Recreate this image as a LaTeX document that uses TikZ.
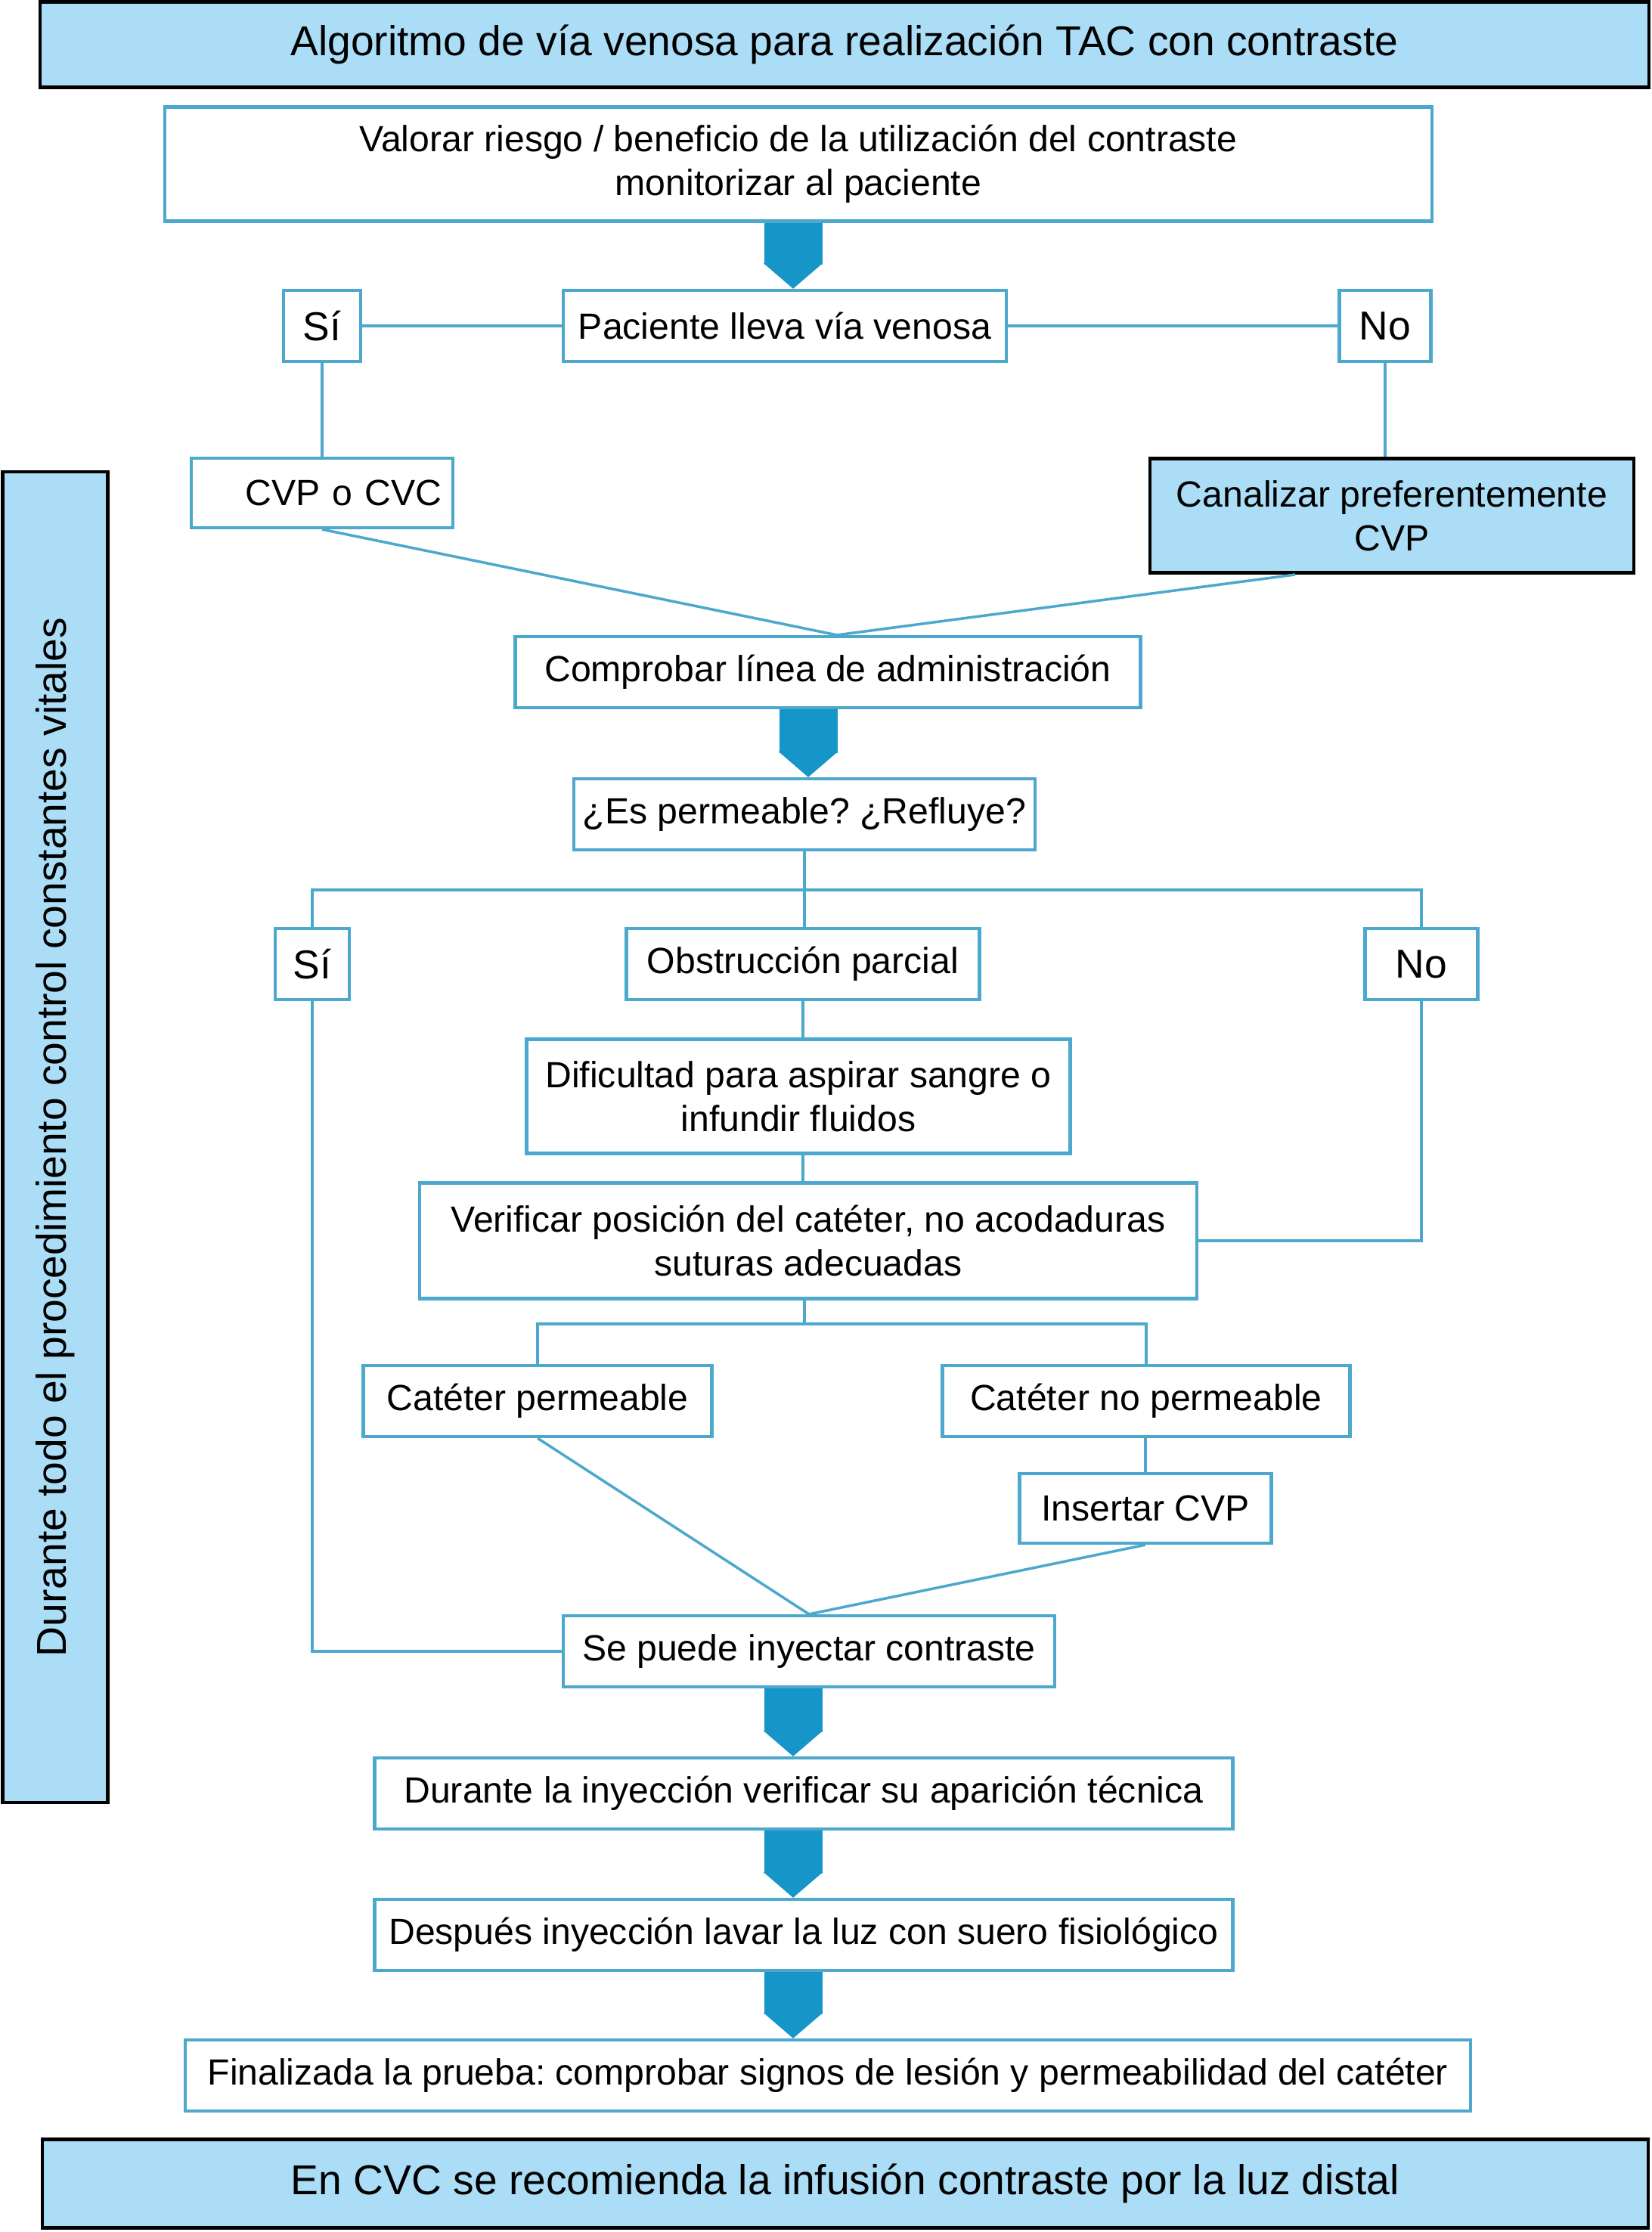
\documentclass[tikz,border=0pt]{standalone}
\usepackage{fontspec}
\setmainfont{Liberation Sans}
\usepackage{xcolor}
\usepackage{tikz}
\usetikzlibrary{arrows.meta}
\definecolor{venablue}{RGB}{22,150,200}
\definecolor{lineblue}{RGB}{76,168,204}
\definecolor{paleblue}{RGB}{171,221,246}
\frenchspacing

\begin{document}
\begin{tikzpicture}[
  every node/.style={font=\fontsize{13.7}{16.6}\selectfont, align=center, inner sep=0pt},
  flowbox/.style={draw=lineblue, line width=1.2pt, fill=white},
  answerbox/.style={flowbox, font=\fontsize{15.2}{18}\selectfont},
  notebox/.style={draw=black, line width=1.4pt, fill=paleblue},
  titlebox/.style={notebox, font=\fontsize{15.7}{18.8}\selectfont},
  link/.style={draw=lineblue, line width=1pt},
  flowarrow/.style={draw=venablue, line width=0.77cm, -{Triangle[length=0.34cm,width=0.77cm]}}
]
\useasboundingbox (0,0) rectangle (21.84,-29.52);
\coordinate (midA) at (10.49,0);
\coordinate (midB) at (10.69,0);

\node[titlebox, minimum width=21.28cm, minimum height=1.13cm] (title) at (11.17,-0.59) {Algoritmo de vía venosa para realización TAC con contraste};
\node[flowbox, minimum width=16.76cm, minimum height=1.51cm] (valorar) at (10.56,-2.17) {Valorar riesgo / beneficio de la utilización del contraste\\monitorizar al paciente};
\node[flowbox, minimum width=5.86cm, minimum height=0.94cm] (paciente) at (10.38,-4.31) {Paciente lleva vía venosa};
\node[answerbox, minimum width=1.02cm, minimum height=0.94cm] (si1) at (4.26,-4.31) {Sí};
\node[answerbox, minimum width=1.21cm, minimum height=0.94cm] (no1) at (18.32,-4.31) {No};
\node[flowbox, minimum width=3.46cm, minimum height=0.92cm, text width=3.16cm, align=right] (cvp) at (4.26,-6.52) {CVP o CVC};
\node[notebox, minimum width=6.40cm, minimum height=1.51cm] (canal) at (18.41,-6.82) {Canalizar preferentemente\\CVP};
\node[flowbox, minimum width=8.27cm, minimum height=0.94cm] (comprobar) at (10.95,-8.89) {Comprobar línea de administración};
\node[flowbox, minimum width=6.10cm, minimum height=0.94cm] (permeable) at (10.64,-10.77) {¿Es permeable? ¿Refluye?};
\node[answerbox, minimum width=0.98cm, minimum height=0.94cm] (si2) at (4.13,-12.75) {Sí};
\node[flowbox, minimum width=4.67cm, minimum height=0.94cm] (obstruccion) at (10.62,-12.75) {Obstrucción parcial};
\node[answerbox, minimum width=1.49cm, minimum height=0.94cm] (no2) at (18.80,-12.75) {No};
\node[flowbox, minimum width=7.19cm, minimum height=1.51cm] (dificultad) at (10.56,-14.50) {Dificultad para aspirar sangre o\\infundir fluidos};
\node[flowbox, minimum width=10.28cm, minimum height=1.53cm] (verificar) at (10.69,-16.41) {Verificar posición del catéter, no acodaduras\\suturas adecuadas};
\node[flowbox, minimum width=4.61cm, minimum height=0.94cm] (catperm) at (7.11,-18.53) {Catéter permeable};
\node[flowbox, minimum width=5.39cm, minimum height=0.94cm] (catnoperm) at (15.16,-18.53) {Catéter no permeable};
\node[flowbox, minimum width=3.33cm, minimum height=0.92cm] (insertar) at (15.15,-19.95) {Insertar CVP};
\node[flowbox, minimum width=6.50cm, minimum height=0.94cm] (sepuede) at (10.70,-21.84) {Se puede inyectar contraste};
\node[flowbox, minimum width=11.35cm, minimum height=0.94cm] (durante) at (10.63,-23.72) {Durante la inyección verificar su aparición técnica};
\node[flowbox, minimum width=11.35cm, minimum height=0.94cm] (despues) at (10.63,-25.59) {Después inyección lavar la luz con suero fisiológico};
\node[flowbox, minimum width=17.00cm, minimum height=0.94cm] (finalizada) at (10.95,-27.45) {Finalizada la prueba: comprobar signos de lesión y permeabilidad del catéter};
\node[titlebox, minimum width=21.24cm, minimum height=1.17cm] (recomienda) at (11.18,-28.88) {En CVC se recomienda la infusión contraste por la luz distal};
\node[titlebox, rotate=90, minimum width=17.60cm, minimum height=1.39cm] (vitales) at (0.73,-15.04) {Durante todo el procedimiento control constantes vitales};

\draw[link] (si1) -- (paciente);
\draw[link] (paciente) -- (no1);
\draw[link] (si1) -- (cvp);
\draw[link] (no1.south) -- (no1.south |- canal.north);
\draw[link] (cvp.south) -- ([xshift=0.12cm]comprobar.north) -- ([xshift=-1.28cm]canal.south);

\coordinate (forkA) at (10.64,-11.77);
\draw[link] (permeable.south) -- (permeable.south |- obstruccion.north);
\draw[link] (si2.north) |- (forkA) -| (no2.north);
\draw[link] (obstruccion.south) -- (obstruccion.south |- dificultad.north);
\draw[link] (dificultad.south -| obstruccion.south) -- (obstruccion.south |- verificar.north);
\draw[link] (no2.south) |- (verificar.east);

\coordinate (forkB) at (10.64,-17.51);
\draw[link] (verificar.south -| forkB) -- (forkB);
\draw[link] (catperm.north) |- (forkB) -| (catnoperm.north);
\draw[link] (catnoperm.south -| insertar.north) -- (insertar.north);
\draw[link] (catperm.south) -- (sepuede.north) -- (insertar.south);
\draw[link] (si2.south) |- (sepuede.west);

\draw[flowarrow] (valorar.south -| midA) -- (paciente.north -| midA);
\draw[flowarrow] (comprobar.south -| midB) -- (permeable.north -| midB);
\draw[flowarrow] (sepuede.south -| midA) -- (durante.north -| midA);
\draw[flowarrow] (durante.south -| midA) -- (despues.north -| midA);
\draw[flowarrow] (despues.south -| midA) -- (finalizada.north -| midA);
\end{tikzpicture}
\end{document}
